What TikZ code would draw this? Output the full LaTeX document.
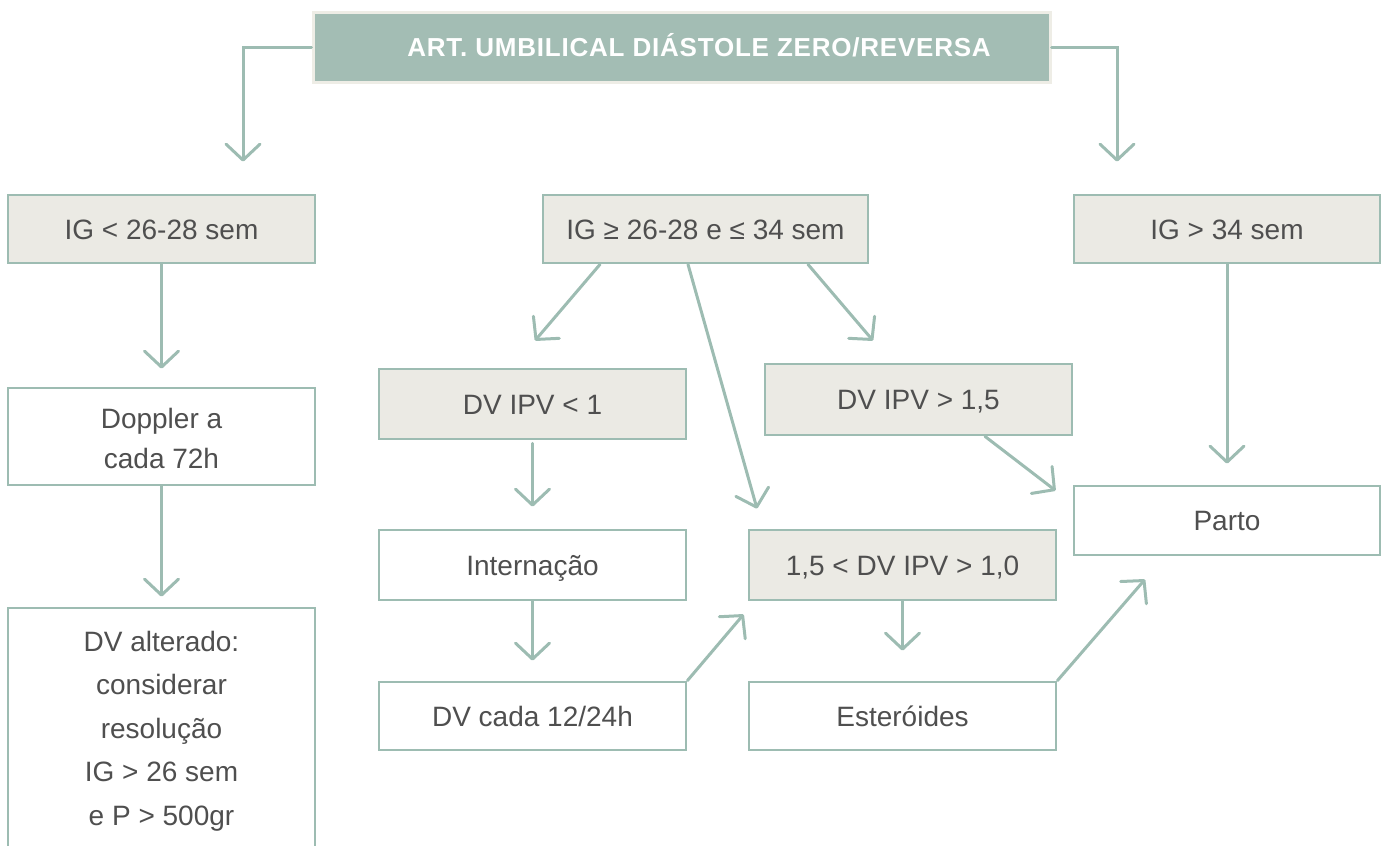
\documentclass[tikz,border=0pt]{standalone}
\usepackage{fontspec}
\setmainfont{Liberation Sans}
\newfontfamily\headfont[LetterSpace=3]{Liberation Sans}
\usetikzlibrary{arrows.meta,calc}
\definecolor{sage}{HTML}{9DBCB2}
\definecolor{sagefill}{HTML}{A3BDB4}
\definecolor{paper}{HTML}{EBEAE4}
\definecolor{ink}{HTML}{4F4F4F}
\definecolor{rim}{HTML}{EEEDE6}

\begin{document}
\begin{tikzpicture}[x=1pt,y=-1pt,
  box/.style={draw=sage, line width=2.8pt, minimum width=307pt, inner sep=0pt,
    font=\fontsize{28}{40}\selectfont, text=ink, text height=20pt, text depth=0pt},
  cond/.style={box, fill=paper},
  plain/.style={box, fill=white},
  txt/.style={inner sep=0pt, text=ink, align=center},
  flow/.style={draw=sage, line width=3pt, line cap=round,
    -{Straight Barb[length=16pt,width=34pt,round]}}]

\useasboundingbox (0,0) rectangle (1387,846);
\clip (0,0) rectangle (1387,846);

% header
\node[draw=rim, fill=sagefill, line width=3pt, minimum width=737pt,
      minimum height=70pt, inner sep=0pt] (T) at (681.5,47) {};
\node[inner sep=0pt, text=white, font=\headfont\bfseries\fontsize{26}{30}\selectfont,
      text height=19pt, text depth=0pt] (Tt) at (699,47) {ART. UMBILICAL DIÁSTOLE ZERO/REVERSA};

% gestational-age branches
\node[cond, minimum height=68pt] (A) at (161.5,229) {IG < 26-28 sem};
\node[cond, minimum width=325pt, minimum height=68pt] (B) at (705.5,229) {IG ≥ 26-28 e ≤ 34 sem};
\node[cond, minimum width=306pt, minimum height=68pt] (C) at (1227,229) {IG > 34 sem};

% left column
\node[plain, minimum height=97pt] (D) at (161.5,436.5) {};
\node[txt, font=\fontsize{28}{40}\selectfont] at (161.5,438) {Doppler a\\cada 72h};
\node[plain, minimum height=260pt] (E) at (161.5,738) {};
\node[txt, font=\fontsize{28}{43.5}\selectfont] at (161.5,731) {DV alterado:\\considerar\\resolução\\IG > 26 sem\\e P > 500gr};

% middle and right
\node[cond, minimum height=70pt] (F) at (532.5,404) {DV IPV < 1};
\node[cond, minimum height=71pt] (G) at (918.5,399.5) {DV IPV > 1,5};
\node[plain, minimum height=70pt] (I) at (532.5,565) {Internação};
\node[plain, minimum height=68pt] (J) at (532.5,716) {DV cada 12/24h};
\node[cond, minimum height=70pt] (H) at (902.5,565) {1,5 < DV IPV > 1,0};
\node[plain, minimum height=68pt] (K) at (902.5,716) {Esteróides};
\node[plain, minimum width=306pt, minimum height=69pt] (L) at (1227,520.5) {Parto};

% connectors
\draw[flow] (T.west) -| ($(A.north)+(81.5,-32)$);
\draw[flow] (T.east) -| ($(C.north)+(-110,-32)$);
\draw[flow] (A.south) -- ($(D.north)+(0,-18)$);
\draw[flow] (D.south) -- ($(E.north)+(0,-10)$);
\draw[flow] ($(B.south)+(-105.5,0)$) -- ($(F.north)+(2.5,-27)$);
\draw[flow] ($(B.south)+(-17.5,0)$) -- ($(H.north)+(-145.5,-20)$);
\draw[flow] ($(B.south)+(102.5,0)$) -- ($(G.north)+(-45.5,-22)$);
\draw[flow] ($(F.south)+(0,3)$) -- ($(I.north)+(0,-22)$);
\draw[flow] (I.south) -- ($(J.north)+(0,-20)$);
\draw[flow] (J.north east) -- ($(H.south west)+(-4,13)$);
\draw[flow] (H.south) -- ($(K.north)+(0,-30)$);
\draw[flow] (K.north east) -- ($(L.south)+(-82,23)$);
\draw[flow] ($(G.south)+(66.5,0)$) -- ($(L.north west)+(-17,6)$);
\draw[flow] (C.south) -- ($(L.north)+(0,-21)$);
\end{tikzpicture}
\end{document}
